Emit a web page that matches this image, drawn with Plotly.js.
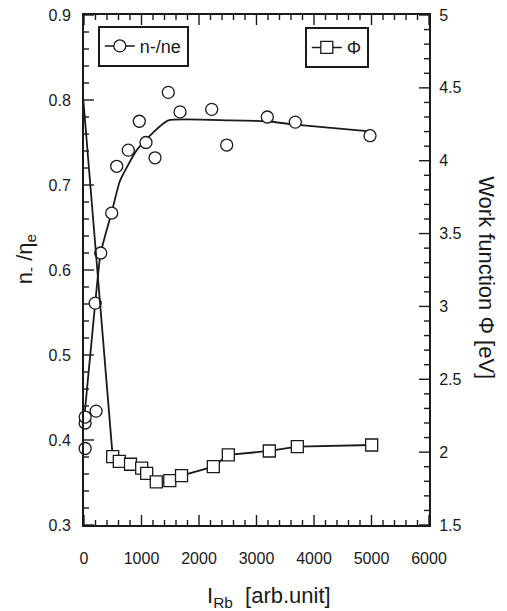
<!DOCTYPE html>
<html>
<head>
<meta charset="utf-8">
<script src="https://cdn.plot.ly/plotly-3.0.1.min.js"></script>
<style>html,body{margin:0;padding:0;background:#fff;}#chart{width:507px;height:611px;}</style>
</head>
<body>
<div id="chart"></div>
<script>
// n-/ne measured points (left axis)
const ratioX = [20, 20, 20, 210, 195, 290, 482, 569, 770, 962, 1078, 1235, 1466, 1670, 2221, 2482, 3188, 3675, 4974];
const ratioY = [0.390, 0.420, 0.427, 0.434, 0.561, 0.620, 0.667, 0.722, 0.741, 0.775, 0.750, 0.732, 0.809, 0.786, 0.789, 0.747, 0.780, 0.774, 0.758];
// n-/ne guide curve
const fitX = [0, 195, 290, 482, 626, 917, 1205, 1466, 2539, 3183, 3670, 4974];
const fitY = [0.423, 0.561, 0.620, 0.668, 0.705, 0.741, 0.762, 0.776, 0.776, 0.775, 0.771, 0.763];
// Work function (right axis)
const phiX = [-50, 499, 614, 809, 1003, 1090, 1257, 1492, 1696, 2249, 2510, 3223, 3710, 5003];
const phiY = [4.60, 1.969, 1.936, 1.917, 1.890, 1.854, 1.796, 1.805, 1.839, 1.901, 1.981, 2.008, 2.038, 2.049];
// axis ranges and tick steps
const xRange = [0, 6000], xMajor = 1000, xMinor = 200;
const ratioRange = [0.3, 0.9], ratioMajor = 0.1, ratioMinor = 0.02;
const phiRange = [1.5, 5], phiMajor = 0.5, phiMinor = 0.1;

const W = 507, H = 611, M = {l:84, r:78, t:14.5, b:86};
const plotW = W - M.l - M.r, plotH = H - M.t - M.b;

const FONT = 'Liberation Sans, Arial, Helvetica, sans-serif';
const INK = '#1a1a1a';
const circ = {symbol:'circle', size:12, color:'white', line:{color:INK, width:1.3}};
const sq = {symbol:'square', size:12, color:'white', line:{color:INK, width:1.3}};

// inward tick marks (axis decoration), built from the ranges and steps
function tickVals(range, step){
  const out = []; const n = Math.round((range[1]-range[0])/step);
  for(let i=0;i<=n;i++) out.push(range[0] + i*step);
  return out;
}
function isMajor(v, range, step){ const r = (v-range[0])/step; return Math.abs(r-Math.round(r)) < 1e-6; }
function pxToY(px, range){ return px*(range[1]-range[0])/plotH; }
function pxToX(px){ return px*(xRange[1]-xRange[0])/plotW; }

const xtx = [], xty = [];
tickVals(xRange, xMinor).forEach(function(v){
  const len = pxToY(isMajor(v, xRange, xMajor) ? 10 : 5, ratioRange);
  xtx.push(v, v, null, v, v, null);
  xty.push(ratioRange[0], ratioRange[0]+len, null, ratioRange[1], ratioRange[1]-len, null);
});
const ltx = [], lty = [];
tickVals(ratioRange, ratioMinor).forEach(function(v){
  const len = pxToX(isMajor(v, ratioRange, ratioMajor) ? 10 : 5);
  ltx.push(xRange[0], xRange[0]+len, null); lty.push(v, v, null);
});
const rtx = [], rty = [];
tickVals(phiRange, phiMinor).forEach(function(v){
  const len = pxToX(isMajor(v, phiRange, phiMajor) ? 10 : 5);
  rtx.push(xRange[1], xRange[1]-len, null); rty.push(v, v, null);
});

const tickLine = {color:INK, width:1.4};
const traces = [
  {x:xtx, y:xty, mode:'lines', line:tickLine, showlegend:false, hoverinfo:'skip', connectgaps:false},
  {x:ltx, y:lty, mode:'lines', line:tickLine, showlegend:false, hoverinfo:'skip', connectgaps:false},
  {x:rtx, y:rty, yaxis:'y2', mode:'lines', line:tickLine, showlegend:false, hoverinfo:'skip', connectgaps:false},
  {x:fitX, y:fitY, mode:'lines', line:{color:INK, width:1.8, shape:'spline', smoothing:0.5}, showlegend:false, hoverinfo:'skip'},
  {x:ratioX, y:ratioY, mode:'markers', marker:circ, showlegend:false, cliponaxis:false},
  {x:phiX, y:phiY, yaxis:'y2', mode:'lines+markers', line:{color:INK, width:1.8}, marker:sq, showlegend:false, cliponaxis:false},
  {x:[null], y:[null], mode:'lines+markers', name:'n-/ne', line:{color:INK, width:1.5}, marker:circ, legend:'legend'},
  {x:[null], y:[null], yaxis:'y2', mode:'lines+markers', name:'Φ', line:{color:INK, width:1.5}, marker:sq, legend:'legend2'}
];

const layout = {
  width:W, height:H,
  margin:M,
  paper_bgcolor:'#ffffff', plot_bgcolor:'#ffffff',
  font:{family:FONT, color:INK, size:16},
  xaxis:{range:xRange, dtick:xMajor, showgrid:false, zeroline:false,
    showline:true, linecolor:INK, linewidth:2, mirror:true, ticks:'',
    tickfont:{size:16, family:FONT, color:INK}, ticklabelstandoff:18},
  yaxis:{range:ratioRange, dtick:ratioMajor, showgrid:false, zeroline:false,
    showline:true, linecolor:INK, linewidth:2, ticks:'',
    tickfont:{size:16, family:FONT, color:INK}, ticklabelstandoff:8},
  yaxis2:{range:phiRange, dtick:phiMajor, overlaying:'y', side:'right', showgrid:false, zeroline:false,
    showline:true, linecolor:INK, linewidth:2, ticks:'',
    tickfont:{size:16, family:FONT, color:INK}, ticklabelstandoff:5},
  legend:{x:0.04, y:0.979, xanchor:'left', yanchor:'top', bgcolor:'#fff', bordercolor:INK, borderwidth:2,
    font:{size:18, family:FONT, color:INK}},
  legend2:{x:0.64, y:0.976, xanchor:'left', yanchor:'top', bgcolor:'#fff', bordercolor:INK, borderwidth:2,
    font:{size:18, family:FONT, color:INK}},
  annotations:[
    {text:'n<sub>-</sub> /η<sub>e</sub>', xref:'paper', yref:'paper', x:-0.168, y:0.521, xanchor:'center', yanchor:'middle', textangle:-90,
      showarrow:false, font:{size:22, family:FONT, color:INK}},
    {text:'Work function Φ [eV]', xref:'paper', yref:'paper', x:1.168, y:0.484, xanchor:'center', yanchor:'middle', textangle:90,
      showarrow:false, font:{size:22, family:FONT, color:INK}},
    {text:'I<sub>Rb</sub>  [arb.unit]', xref:'paper', yref:'paper', x:0.536, y:-0.141, xanchor:'center', yanchor:'middle',
      showarrow:false, font:{size:22, family:FONT, color:INK}}
  ]
};

Plotly.newPlot('chart', traces, layout, {displayModeBar:false, staticPlot:true});
</script>
</body>
</html>
